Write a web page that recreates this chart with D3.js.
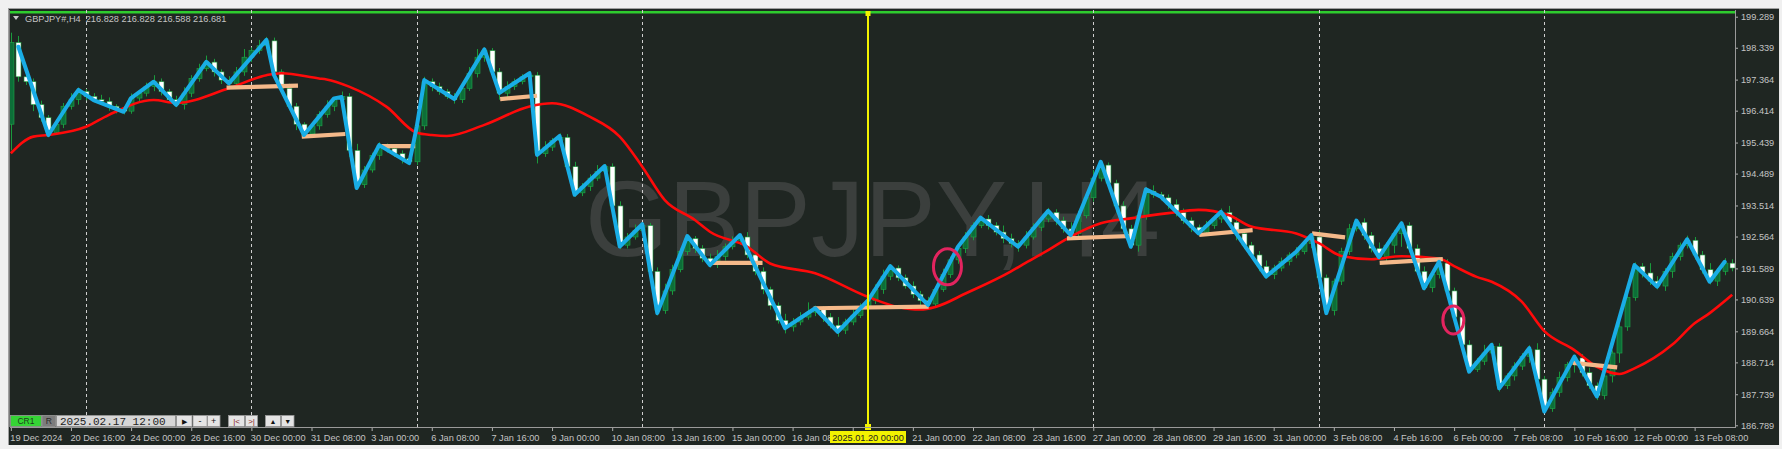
<!DOCTYPE html>
<html><head><meta charset="utf-8">
<script src="https://cdn.jsdelivr.net/npm/d3@7"></script>
<style>html,body{margin:0;padding:0;background:#f0f0f0;overflow:hidden}</style>
</head><body>
<svg id="c" width="1782" height="449"></svg>
<script>
// ---------------- data ----------------
const symbolTitle = "GBPJPY#,H4";
const headerValues = "216.828 216.828 216.588 216.681";
const watermark = "GBPJPY,H4";
const firstOpen = 196.00;
const closes = [
198.50,197.45,197.30,196.60,196.20,195.75,196.00,196.55,196.75,197.00,
196.85,196.75,196.70,196.55,196.45,196.40,196.80,196.95,197.15,197.30,
197.00,196.75,196.60,196.95,197.40,197.70,197.90,197.60,197.35,197.25,
197.60,198.05,198.25,198.40,198.55,197.60,197.10,196.55,196.00,195.70,
195.95,196.30,196.55,196.75,196.85,195.20,194.15,194.60,195.05,195.35,
195.25,195.10,194.95,194.85,195.95,197.30,197.15,197.00,196.85,196.75,
197.10,197.55,198.05,198.25,197.60,196.95,197.15,197.30,197.45,197.50,
195.10,195.30,195.50,195.60,194.70,193.90,194.10,194.35,194.55,194.70,
193.50,192.30,192.55,192.75,192.90,191.50,190.30,190.90,191.55,192.10,
192.50,192.20,191.90,191.70,191.95,192.25,192.45,192.55,192.00,191.50,
190.95,190.45,190.00,189.80,189.95,190.10,190.25,190.35,190.10,189.85,
189.70,189.95,190.15,190.40,190.60,190.95,191.35,191.60,191.30,191.05,
190.80,190.60,190.50,190.95,191.40,191.85,192.20,192.55,192.90,193.10,
192.90,192.70,192.50,192.35,192.30,192.55,192.85,193.10,193.30,193.05,
192.80,192.65,193.20,193.75,194.35,194.75,194.20,193.50,192.80,192.30,
193.20,193.95,193.85,193.75,193.55,193.30,193.05,192.85,192.70,192.90,
193.10,193.30,193.00,192.65,192.30,192.00,191.65,191.40,191.60,191.80,
192.00,192.10,192.35,192.55,191.30,190.30,191.20,192.10,192.80,193.00,
192.60,192.20,191.95,192.30,192.65,192.90,192.20,191.50,191.00,191.40,
191.75,190.90,190.10,189.25,188.50,188.75,189.00,189.20,188.00,188.30,
188.60,188.90,189.10,188.20,187.30,187.80,188.25,188.65,188.85,188.40,
188.00,187.70,188.30,189.00,189.80,190.70,191.65,191.45,191.20,191.05,
191.50,191.95,192.30,192.45,192.00,191.55,191.20,191.50,191.75,191.60];
// wick lengths in pips (0.01 JPY)
const upperWick = [
30,20,15,10,12,8,15,10,20,12, 8,10,15,12,6,10,14,8,12,20,
10,8,12,18,10,15,20,10,8,12, 15,25,10,18,12,10,8,14,10,6,
12,10,18,8,15,10,20,12,8,10, 6,12,10,8,20,15,10,12,8,10,
14,20,25,10,8,12,16,10,8,12, 10,18,8,12,10,15,10,12,20,8,
10,14,12,18,10,8,12,22,15,10, 12,8,10,14,20,10,12,8,15,10,
12,8,10,20,12,15,30,10,8,12, 25,10,18,12,10,15,20,12,8,10,
14,10,12,8,18,10,12,15,10,8, 12,10,20,15,10,18,12,8,14,10,
12,20,15,10,25,12,8,10,14,12, 10,12,18,8,10,15,12,10,8,14,
10,12,20,15,8,10,12,18,10,12, 8,14,10,12,20,10,8,12,15,10,
12,10,18,8,12,14,10,12,15,10, 18,12,10,8,14,10,25,12,10,8,
12,10,14,20,10,12,18,8,10,12, 15,10,12,8,20,25,12,10,30,15,
10,12,8,14,10,12,20,10,15,12];
const lowerWick = [
80,15,10,20,12,15,8,12,10,15, 12,8,10,14,12,10,8,12,10,14,
12,10,8,15,12,10,8,14,12,10, 8,12,15,10,8,20,15,12,18,10,
8,12,10,15,8,20,12,10,8,14, 12,10,15,8,10,12,14,10,8,12,
10,8,12,14,10,20,12,10,8,12, 30,10,12,8,20,12,10,14,8,12,
25,12,10,8,14,30,15,10,12,8, 10,14,12,8,10,12,8,14,10,12,
15,12,10,20,14,10,8,12,15,10, 20,12,10,8,12,10,14,12,10,8,
12,15,10,12,8,10,12,14,10,8, 12,10,14,12,20,10,8,12,10,14,
12,15,10,8,12,10,14,20,12,10, 20,12,10,8,14,12,10,15,12,8,
10,12,14,20,12,10,15,12,14,10, 12,10,8,14,12,10,15,12,10,8,
14,12,10,15,25,40,12,10,8,14, 12,10,15,12,10,8,12,20,18,10,
14,12,20,15,12,10,14,12,25,12, 10,14,12,20,30,12,10,14,12,10,
15,20,12,10,14,12,10,15,12,10];
const timeLabels = ["19 Dec 2024","20 Dec 16:00","24 Dec 00:00","26 Dec 16:00","30 Dec 00:00","31 Dec 08:00",
"3 Jan 00:00","6 Jan 08:00","7 Jan 16:00","9 Jan 00:00","10 Jan 08:00","13 Jan 16:00","15 Jan 00:00",
"16 Jan 08:00","17 Jan 16:00","21 Jan 00:00","22 Jan 08:00","23 Jan 16:00","27 Jan 00:00","28 Jan 08:00",
"29 Jan 16:00","31 Jan 00:00","3 Feb 08:00","4 Feb 16:00","6 Feb 00:00","7 Feb 08:00","10 Feb 16:00",
"12 Feb 00:00","13 Feb 08:00"];
const barsPerLabel = 8;
const priceTicks = [199.289,198.339,197.364,196.414,195.439,194.489,193.514,192.564,191.589,190.639,189.664,188.714,187.739,186.789];
const separators = [10,32,54,84,114,144,174,204];
const cursorBar = 114;
const cursorLabel = "2025.01.20 00:00";
const zigzagBars   = [1,5,8,9,11,15,16,19,22,26,29,34,35,39,43,44,46,49,53,54,55,59,63,65,69,70,73,75,79,81,84,86,90,93,97,103,107,110,114,117,122,126,129,134,138,141,145,149,151,153,158,161,167,171,173,175,179,182,185,188,190,194,197,198,202,204,208,211,216,219,223,226,228];
const zigzagPrices = [198.37,195.67,196.74,197.05,196.74,196.38,196.80,197.30,196.59,197.91,197.25,198.58,197.51,195.67,196.79,196.83,194.05,195.36,194.81,195.92,197.35,196.77,198.29,196.96,197.56,195.06,195.64,193.84,194.72,192.26,192.94,190.22,192.58,191.69,192.61,189.76,190.37,189.65,190.60,191.66,190.47,192.25,193.14,192.25,193.35,192.61,194.85,192.25,194.01,193.78,192.66,193.32,191.34,192.10,192.61,190.22,193.05,191.93,192.97,190.98,191.79,188.43,189.25,187.92,189.15,187.21,188.89,187.67,191.69,191.03,192.48,191.18,191.79];
const maBars   = [0,3,5,10,13,19,22,29,34,36,41,42,45,50,54,56,58,63,69,72,77,81,84,87,91,93,98,101,107,114,118,121,123,127,133,135,138,141,145,149,154,158,162,165,171,174,177,181,185,190,192,195,197,201,204,208,211,214,216,221,224,226,229];
const maPrices = [195.11,195.62,195.67,195.92,196.28,196.74,196.65,197.10,197.50,197.56,197.40,197.37,197.15,196.53,195.74,195.67,195.64,195.98,196.54,196.64,196.23,195.62,194.70,193.68,193.07,192.71,192.25,191.74,191.44,190.72,190.41,190.33,190.41,190.82,191.49,191.76,192.15,192.56,192.97,193.12,193.28,193.38,193.22,192.87,192.66,192.36,191.97,191.87,191.96,191.89,191.66,191.33,191.18,190.57,189.67,189.09,188.58,188.36,188.53,189.25,189.91,190.22,190.78];
// horizontal level segments: [startBar, startPrice, endBar, endPrice]
const levelSegments = [[28.7,197.12,38.2,197.18],[38.7,195.62,44.5,195.70],[49.3,195.33,53.8,195.33],[65.1,196.77,70.0,196.87],
[93.2,191.76,100.0,191.76],[106.8,190.37,122.1,190.42],[140.5,192.51,148.8,192.58],[158.1,192.61,165.2,192.76],
[173.1,192.66,177.5,192.54],[182.1,191.76,190.5,191.87],[207.8,188.70,213.7,188.56]];
const markBars = [124.6,191.9];
const markPrices = [191.64,190.01];

// ---------------- layout ----------------
const W=1782,H=449;
const plot={left:10,right:1735,top:10,bottom:427};
const BG="#1f2622", TXT="#c4c4c4", GRID="#cfcfcf";
const svg=d3.select("#c");
const x=d3.scaleLinear().domain([0,229]).range([10.83,10.83+229*7.517]);
const y=d3.scaleLinear().domain([186.789,199.289]).range([425.3,16.7]);

svg.append("rect").attr("width",W).attr("height",H).attr("fill","#f0f0f0");
svg.append("rect").attr("x",8).attr("y",8).attr("width",1771).attr("height",437).attr("fill",BG);
svg.append("line").attr("x1",8).attr("x2",1779).attr("y1",8.5).attr("y2",8.5).attr("stroke","#a0a0a0");
svg.append("line").attr("x1",8.5).attr("x2",8.5).attr("y1",8).attr("y2",445).attr("stroke","#a0a0a0");
svg.append("line").attr("x1",1779.5).attr("x2",1779.5).attr("y1",8).attr("y2",445).attr("stroke","#e8e8e8");

svg.append("defs").append("clipPath").attr("id","pc").append("rect")
  .attr("x",plot.left).attr("y",plot.top).attr("width",plot.right-plot.left).attr("height",plot.bottom-plot.top);
const g=svg.append("g").attr("clip-path","url(#pc)");

// watermark
g.append("text").attr("x",585).attr("y",256).attr("font-family","Liberation Sans, Arial, sans-serif")
  .attr("font-size",107).attr("fill","#3b3f3d").text(watermark);

// top green line
g.append("rect").attr("x",plot.left).attr("y",11).attr("width",plot.right-plot.left).attr("height",2.5).attr("fill","#2ecc2e");

// separators
g.selectAll("line.sep").data(separators.filter(d=>d!==cursorBar)).join("line").attr("class","sep")
  .attr("x1",d=>Math.round(x(d))+0.5).attr("x2",d=>Math.round(x(d))+0.5)
  .attr("y1",plot.top).attr("y2",plot.bottom).attr("stroke",GRID).attr("stroke-dasharray","3,3").attr("stroke-width",1);

// candles
const candles=closes.map((c,i)=>{const o=i===0?firstOpen:closes[i-1];
  return {i,o,c,h:Math.max(o,c)+upperWick[i]/100,l:Math.min(o,c)-lowerWick[i]/100};});
const cg=g.append("g");
cg.selectAll("line.w").data(candles).join("line")
  .attr("x1",d=>Math.round(x(d.i))+0.5).attr("x2",d=>Math.round(x(d.i))+0.5)
  .attr("y1",d=>y(d.h)).attr("y2",d=>y(d.l)).attr("stroke","#1a9a3c").attr("stroke-width",1);
cg.selectAll("rect.b").data(candles).join("rect")
  .attr("x",d=>Math.round(x(d.i))-2).attr("width",5)
  .attr("y",d=>y(Math.max(d.o,d.c))).attr("height",d=>Math.max(1,Math.abs(y(d.o)-y(d.c))))
  .attr("fill",d=>d.c>=d.o?"#0d6e38":"#ffffff")
  .attr("stroke",d=>d.c>=d.o?"#1fa84a":"#1a9a3c").attr("stroke-width",0.6);

// moving average
g.append("path").datum(maBars.map((b,i)=>[b,maPrices[i]]))
  .attr("d",d3.line().x(d=>x(d[0])).y(d=>y(d[1])).curve(d3.curveMonotoneX))
  .attr("fill","none").attr("stroke","#ff0a0a").attr("stroke-width",2.6);

// horizontal levels
g.selectAll("line.lv").data(levelSegments).join("line")
  .attr("x1",d=>x(d[0])).attr("y1",d=>y(d[1])).attr("x2",d=>x(d[2])).attr("y2",d=>y(d[3]))
  .attr("stroke","#f5b98a").attr("stroke-width",4.2);

// zigzag line
g.append("path").datum(zigzagBars.map((b,i)=>[b,zigzagPrices[i]]))
  .attr("d",d3.line().x(d=>x(d[0])).y(d=>y(d[1])))
  .attr("fill","none").attr("stroke","#19ade6").attr("stroke-width",4).attr("stroke-linejoin","round").attr("stroke-linecap","round");

// marks
const markR=[[14,18],[10.5,14]];
g.selectAll("ellipse").data(markBars).join("ellipse")
  .attr("cx",(d,i)=>x(d)).attr("cy",(d,i)=>y(markPrices[i]))
  .attr("rx",(d,i)=>markR[i][0]).attr("ry",(d,i)=>markR[i][1])
  .attr("fill","none").attr("stroke","#e3245f").attr("stroke-width",3);

// cursor line
const cx=Math.round(x(cursorBar));
svg.append("line").attr("x1",cx).attr("x2",cx).attr("y1",plot.top+2).attr("y2",plot.bottom)
  .attr("stroke","#f2f200").attr("stroke-width",2);
svg.append("rect").attr("x",cx-2.5).attr("y",11).attr("width",5).attr("height",5).attr("fill","#f2f200");
svg.append("rect").attr("x",cx-3).attr("y",424).attr("width",6).attr("height",6).attr("fill","#f2f200");

// plot border
svg.append("line").attr("x1",plot.left-0.5).attr("x2",plot.left-0.5).attr("y1",plot.top).attr("y2",plot.bottom).attr("stroke","#7a7a7a");
svg.append("line").attr("x1",plot.right+0.5).attr("x2",plot.right+0.5).attr("y1",plot.top).attr("y2",plot.bottom+1).attr("stroke","#9a9a9a");
svg.append("line").attr("x1",plot.left).attr("x2",plot.right+1).attr("y1",plot.bottom+0.5).attr("y2",plot.bottom+0.5).attr("stroke","#9a9a9a");

// header
svg.append("path").attr("d","M13,16L19,16L16,20Z").attr("fill","#c8c8c8");
svg.append("text").attr("x",25).attr("y",21.5).attr("font-family","Liberation Sans, Arial, sans-serif")
  .attr("font-size",9.2).attr("fill",TXT).attr("xml:space","preserve").text(symbolTitle+"  "+headerValues);

// price axis
const ya=svg.append("g").attr("transform",`translate(${plot.right+1},0)`)
  .call(d3.axisRight(y).tickValues(priceTicks).tickSize(2).tickPadding(3).tickFormat(d3.format(".3f")));
ya.select(".domain").remove();
ya.selectAll("line").attr("stroke","#b0b0b0");
ya.selectAll("text").attr("fill",TXT).attr("font-family","Liberation Sans, Arial, sans-serif").attr("font-size",9.2);

// time axis (labels under the cursor box are hidden, as in the terminal)
const cx0=Math.round(x(cursorBar));
const tickBars=timeLabels.map((t,k)=>k*barsPerLabel);
const xa=svg.append("g").attr("transform",`translate(0,${plot.bottom+1})`)
  .call(d3.axisBottom(x).tickValues(tickBars).tickSize(3).tickPadding(3)
    .tickFormat((d,k)=>Math.abs(x(d)-cx0)<38?"":timeLabels[k]));
xa.select(".domain").remove();
xa.selectAll("line").attr("stroke","#b0b0b0");
xa.selectAll("text").attr("fill",TXT).attr("font-family","Liberation Sans, Arial, sans-serif").attr("font-size",9.2)
  .attr("text-anchor","start").attr("dx",-1);

// cursor label
const cl=svg.append("g");
cl.append("rect").attr("x",cx-38).attr("y",431).attr("width",76).attr("height",12).attr("fill","#f2f200");
cl.append("text").attr("x",cx).attr("y",440.5).attr("text-anchor","middle").attr("font-family","Liberation Sans, Arial, sans-serif")
  .attr("font-size",9.2).attr("fill","#222").text(cursorLabel);

// bottom control bar
const cb=svg.append("g").attr("font-family","Liberation Sans, Arial, sans-serif");
function btn(x0,w,fill,label,col,fs,font){
  cb.append("rect").attr("x",x0+0.5).attr("y",415.5).attr("width",w).attr("height",11).attr("fill",fill).attr("stroke","#9a9a9a").attr("stroke-width",0.8);
  cb.append("text").attr("x",x0+w/2+0.5).attr("y",424.3).attr("text-anchor","middle").attr("font-size",fs).attr("fill",col)
    .attr("font-family",font||"Liberation Sans, Arial, sans-serif").text(label);
}
btn(10,31,"#35d435","CR1","#1d3d1d",8.5);
btn(41.5,13.5,"#7c7c7c","R","#2a2a2a",8.5);
btn(56,119,"#d6d6d6","","#222",11);
cb.append("text").attr("x",60).attr("y",425).attr("font-family","Liberation Mono, DejaVu Sans Mono, monospace")
  .attr("font-size",11).attr("fill","#222").text("2025.02.17 12:00");
btn(176,15.5,"#e4e4e4","▶","#111",7);
btn(192.5,14,"#e4e4e4","-","#111",9);
btn(207,12.5,"#e4e4e4","+","#111",9);
btn(228,16,"#e4e4e4","|<","#8a1a1a",8);
btn(245,12,"#e4e4e4",">|","#8a1a1a",8);
btn(265,15,"#e4e4e4","▲","#111",7);
btn(281,12.5,"#e4e4e4","▼","#111",7);
</script>
</body></html>
